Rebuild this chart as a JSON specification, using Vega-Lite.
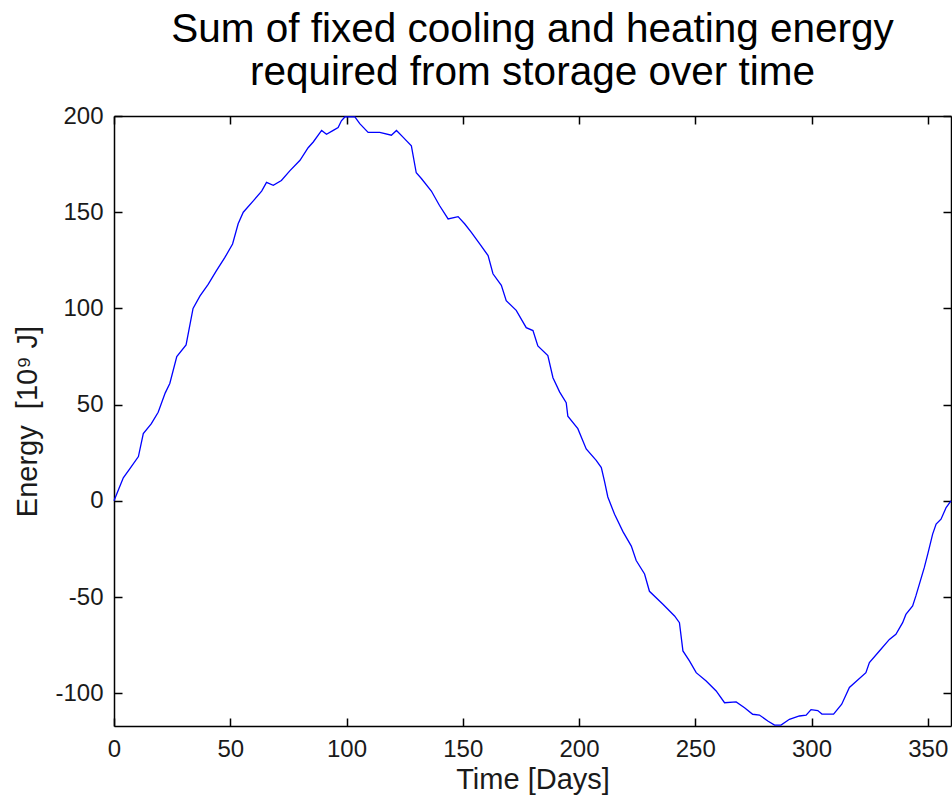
{
  "$schema": "https://vega.github.io/schema/vega-lite/v6.json",
  "width": 837,
  "height": 610,
  "autosize": {"type": "none"},
  "padding": {"left": 114, "top": 116, "right": 1, "bottom": 74},
  "background": "white",
  "config": {
    "view": {"stroke": null},
    "font": "Liberation Sans",
    "axis": {
      "grid": false,
      "domainColor": "black",
      "domainWidth": 1.5,
      "tickColor": "black",
      "tickWidth": 1.5,
      "tickSize": -8,
      "labelColor": "#1a1a1a",
      "labelFont": "Liberation Sans",
      "labelFontSize": 24,
      "labelFlush": false,
      "labelOverlap": false,
      "titleFont": "Liberation Sans",
      "titleFontSize": 29,
      "titleFontWeight": "normal",
      "titleColor": "#1a1a1a"
    }
  },
  "title": {
    "text": ["Sum of fixed cooling and heating energy", "required from storage over time"],
    "font": "Liberation Sans",
    "fontSize": 40.5,
    "fontWeight": "normal",
    "color": "black",
    "anchor": "middle",
    "frame": "group",
    "offset": 11,
    "lineHeight": 43
  },
  "data": {
    "values": [
      {"day": 0, "energy": 0},
      {"day": 2, "energy": 6},
      {"day": 4, "energy": 12},
      {"day": 7, "energy": 17},
      {"day": 10.5, "energy": 23},
      {"day": 12.6, "energy": 35},
      {"day": 16, "energy": 40},
      {"day": 19, "energy": 46},
      {"day": 22, "energy": 56},
      {"day": 24, "energy": 61},
      {"day": 27, "energy": 75},
      {"day": 31, "energy": 81},
      {"day": 34, "energy": 100},
      {"day": 37, "energy": 106.5},
      {"day": 40.5, "energy": 112.5},
      {"day": 44, "energy": 119.5},
      {"day": 47.7, "energy": 126.5},
      {"day": 51, "energy": 133.5},
      {"day": 53.4, "energy": 144},
      {"day": 55.6, "energy": 150},
      {"day": 60, "energy": 156},
      {"day": 63.5, "energy": 161},
      {"day": 65.6, "energy": 165.5},
      {"day": 68.5, "energy": 164},
      {"day": 72, "energy": 166.5},
      {"day": 75.6, "energy": 171.5},
      {"day": 80, "energy": 177},
      {"day": 83.5, "energy": 183.5},
      {"day": 85.7, "energy": 186.5},
      {"day": 89.3, "energy": 192.5},
      {"day": 91.4, "energy": 190.5},
      {"day": 94.3, "energy": 192.5},
      {"day": 96.4, "energy": 194},
      {"day": 97.8, "energy": 197.5},
      {"day": 99.3, "energy": 199.5},
      {"day": 103.6, "energy": 199.5},
      {"day": 105.7, "energy": 196},
      {"day": 109.3, "energy": 191.5},
      {"day": 114.3, "energy": 191.5},
      {"day": 119.3, "energy": 190},
      {"day": 121.5, "energy": 192.5},
      {"day": 124.3, "energy": 189},
      {"day": 127.9, "energy": 184.5},
      {"day": 130, "energy": 170.5},
      {"day": 132.2, "energy": 167.5},
      {"day": 136.5, "energy": 161},
      {"day": 140, "energy": 153.5},
      {"day": 143.7, "energy": 146.5},
      {"day": 148, "energy": 147.7},
      {"day": 150.8, "energy": 144},
      {"day": 153.7, "energy": 139.5},
      {"day": 157.3, "energy": 133.5},
      {"day": 160.9, "energy": 127.5},
      {"day": 163, "energy": 118},
      {"day": 166.6, "energy": 112},
      {"day": 168.7, "energy": 104},
      {"day": 173, "energy": 99},
      {"day": 177.3, "energy": 90},
      {"day": 180.2, "energy": 88.5},
      {"day": 182.3, "energy": 80.5},
      {"day": 186.6, "energy": 75.5},
      {"day": 188.8, "energy": 64},
      {"day": 191.7, "energy": 56.5},
      {"day": 194.5, "energy": 51},
      {"day": 195.2, "energy": 44},
      {"day": 199.5, "energy": 37.5},
      {"day": 203.1, "energy": 27},
      {"day": 207.4, "energy": 21},
      {"day": 209.6, "energy": 17.3},
      {"day": 211, "energy": 10},
      {"day": 212.4, "energy": 2},
      {"day": 215.3, "energy": -7},
      {"day": 218.9, "energy": -16},
      {"day": 222.5, "energy": -23.5},
      {"day": 224.6, "energy": -31},
      {"day": 228.2, "energy": -38},
      {"day": 230.3, "energy": -47},
      {"day": 236.1, "energy": -53.7},
      {"day": 241.1, "energy": -59.8},
      {"day": 243.2, "energy": -63.3},
      {"day": 244.7, "energy": -78},
      {"day": 247.5, "energy": -83.2},
      {"day": 250.4, "energy": -89.3},
      {"day": 254.7, "energy": -93.6},
      {"day": 259, "energy": -98.8},
      {"day": 262.6, "energy": -104.9},
      {"day": 267.6, "energy": -104.5},
      {"day": 271.2, "energy": -107.5},
      {"day": 274.7, "energy": -110.9},
      {"day": 277.6, "energy": -111.3},
      {"day": 281.2, "energy": -114.4},
      {"day": 284.1, "energy": -116.5},
      {"day": 286.9, "energy": -116.5},
      {"day": 290.5, "energy": -113.5},
      {"day": 294.8, "energy": -111.8},
      {"day": 297.7, "energy": -111.4},
      {"day": 299.8, "energy": -108.5},
      {"day": 302.7, "energy": -109},
      {"day": 304.5, "energy": -110.8},
      {"day": 309.5, "energy": -110.8},
      {"day": 313, "energy": -105.7},
      {"day": 316.3, "energy": -97},
      {"day": 323.4, "energy": -89.3},
      {"day": 324.9, "energy": -84},
      {"day": 329.2, "energy": -78},
      {"day": 333.5, "energy": -72},
      {"day": 336.3, "energy": -69.3},
      {"day": 339.2, "energy": -63.3},
      {"day": 340.6, "energy": -59},
      {"day": 343.5, "energy": -54.6},
      {"day": 344.9, "energy": -49.4},
      {"day": 346.4, "energy": -43.3},
      {"day": 348.5, "energy": -34.7},
      {"day": 350, "energy": -27.7},
      {"day": 352.1, "energy": -17.3},
      {"day": 353.6, "energy": -12.1},
      {"day": 355.7, "energy": -9.5},
      {"day": 357.9, "energy": -3.5},
      {"day": 360, "energy": 0}
    ]
  },
  "layer": [
    {
      "mark": {"type": "line", "color": "#0000ff", "strokeWidth": 1.3},
      "encoding": {
        "x": {
          "field": "day",
          "type": "quantitative",
          "scale": {"domain": [0, 360], "nice": false, "zero": false},
          "axis": {"orient": "bottom", "values": [0, 50, 100, 150, 200, 250, 300, 350], "title": "Time [Days]", "labelPadding": 19, "titlePadding": 4}
        },
        "y": {
          "field": "energy",
          "type": "quantitative",
          "scale": {"domain": [-117, 200], "nice": false, "zero": false},
          "axis": {"orient": "left", "values": [-100, -50, 0, 50, 100, 150, 200], "title": "Energy \u00a0[10⁹ J]", "labelPadding": 19, "titlePadding": 12, "labelExpr": "replace(datum.label, '−', '-')"}
        }
      }
    },
    {
      "mark": {"type": "line", "opacity": 0},
      "encoding": {
        "x": {
          "field": "day",
          "type": "quantitative",
          "scale": {"domain": [0, 360], "nice": false, "zero": false},
          "axis": {"orient": "top", "values": [0, 50, 100, 150, 200, 250, 300, 350], "labels": false, "title": null}
        },
        "y": {
          "field": "energy",
          "type": "quantitative",
          "scale": {"domain": [-117, 200], "nice": false, "zero": false},
          "axis": {"orient": "right", "values": [-100, -50, 0, 50, 100, 150, 200], "labels": false, "title": null}
        }
      }
    }
  ],
  "resolve": {"axis": {"x": "independent", "y": "independent"}}
}
